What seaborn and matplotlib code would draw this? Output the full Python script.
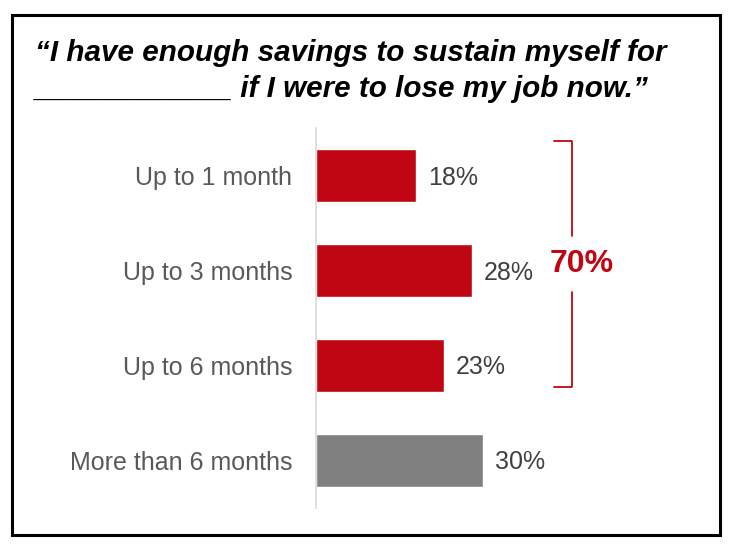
import matplotlib.pyplot as plt
import matplotlib.patches as patches
import seaborn as sns
import pandas as pd

categorias = ["Up to 1 month", "Up to 3 months", "Up to 6 months", "More than 6 months"]
porcentajes = [18, 28, 23, 30]
grupo = ["corto", "corto", "corto", "largo"]
total_corto = 70

titulo = "\u201cI have enough savings to sustain myself for\n____________ if I were to lose my job now.\u201d"

ROJO = "#C00613"
GRIS = "#808080"
TEXTO = "#595959"

sns.set_theme(style="white")
plt.rcParams["font.family"] = ["Liberation Sans", "DejaVu Sans"]

df = pd.DataFrame({"categoria": categorias, "pct": porcentajes, "grupo": grupo})

fig = plt.figure(figsize=(7.34, 5.52), dpi=100)
ax = fig.add_axes([0.4305, 0.0797, 0.531, 0.688])

sns.barplot(data=df, y="categoria", x="pct", hue="grupo",
            palette={"corto": ROJO, "largo": GRIS}, dodge=False,
            width=0.56, saturation=1, legend=False, ax=ax)

ax.set_xlim(0, 70)
ax.set_ylim(3.5, -0.5)
ax.set_xlabel("")
ax.set_ylabel("")
ax.set_xticks([])
ax.tick_params(axis="y", length=0, pad=17, labelsize=18, labelcolor=TEXTO)
for lado in ["top", "right", "bottom"]:
    ax.spines[lado].set_visible(False)
ax.spines["left"].set_color("#D9D9D9")
ax.spines["left"].set_linewidth(1.2)

# etiquetas de valores
for i, v in enumerate(porcentajes):
    ax.text(v + 2.1, i + 0.02, f"{v}%", va="center", ha="left", fontsize=18, color="#404040")

# corchete del total
n_corto = grupo.count("corto")
y_top = -0.37
y_bot = n_corto - 1 + 0.23
x_in, x_out = 42.8, 45.9
y_mid = (y_top + y_bot) / 2
ax.plot([x_in, x_out, x_out], [y_top, y_top, y_mid - 0.3], color=ROJO, lw=1.3, clip_on=False)
ax.plot([x_out, x_out, x_in], [y_mid + 0.3, y_bot, y_bot], color=ROJO, lw=1.3, clip_on=False)
ax.text(x_out + 1.9, y_mid, f"{total_corto}%", color=ROJO, fontsize=23, fontweight="bold",
        ha="center", va="center", clip_on=False)

fig.text(0.048, 0.93, titulo, fontsize=21.3, fontweight="bold", fontstyle="italic",
         color="black", ha="left", va="top", linespacing=1.4)

marco = patches.Rectangle((12 / 734, 1 - 535 / 552), 708 / 734, 520 / 552,
                          transform=fig.transFigure, fill=False, edgecolor="black", linewidth=2.2)
fig.patches.append(marco)

fig.savefig("out.png", dpi=100)
